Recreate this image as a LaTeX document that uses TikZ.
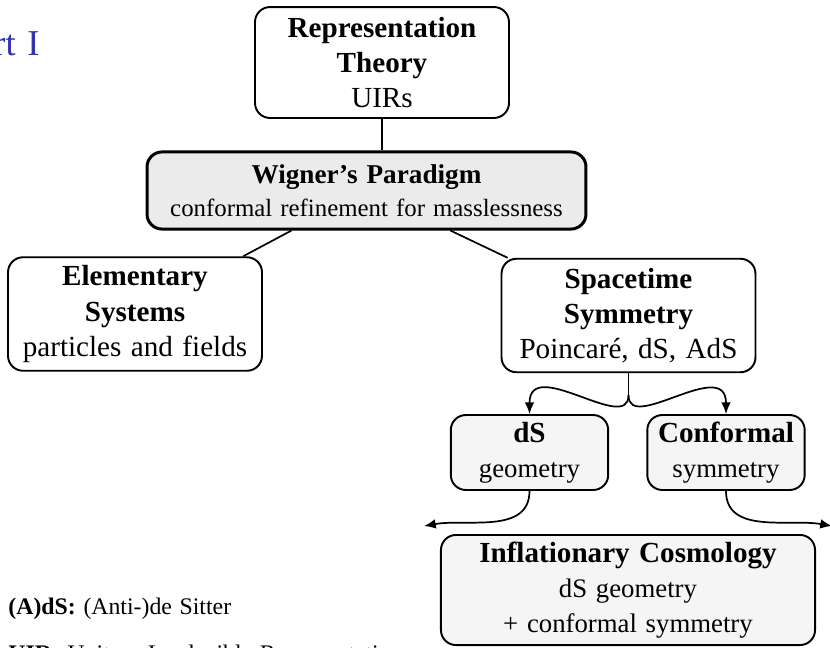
\documentclass[tikz,border=0pt]{standalone}
\usepackage{fontspec}
\setmainfont{Liberation Serif}[WordSpace=1.3]
\usepackage{tikz}
\usetikzlibrary{arrows.meta}

\definecolor{titleblue}{rgb}{0.2,0.2,0.7}
\newcommand{\subfont}{\fontsize{12.5}{16.5}\selectfont}

\begin{document}
\begin{tikzpicture}[x=0.467pt, y=-0.467pt,
    box/.style={draw, rounded corners=7pt, line width=0.9pt, align=center,
        inner sep=2pt, font=\fontsize{13.6}{16.5}\selectfont},
    wide/.style={box, minimum width=118.6pt, minimum height=53pt},
    small/.style={box, fill=black!4, minimum width=73.5pt, minimum height=35pt},
    link/.style={line width=0.8pt},
    arr/.style={line width=0.8pt, -{Latex[length=5.5pt, width=4.5pt]}}]
    \useasboundingbox (0,0) rectangle (830,647);
    \clip (0,0) rectangle (830,647);

    \node[anchor=base east, inner sep=0pt, text=titleblue,
        font=\fontsize{17}{20}\selectfont] (title) at (40,55) {Part I};

    \node[wide, minimum height=51.8pt] (rep) at (382,62.5)
        {\textbf{Representation}\\\textbf{Theory}\\UIRs};
    \node[box, fill=black!8, line width=1.4pt, minimum width=205pt,
        minimum height=36pt, font=\fontsize{11.6}{15.4}\selectfont]
        (wig) at (366.5,190.5)
        {\fontsize{12.7}{15.4}\selectfont\textbf{Wigner's Paradigm}\\conformal refinement for masslessness};
    \node[wide] (elem) at (135,314)
        {\textbf{Elementary}\\\textbf{Systems}\\particles and fields};
    \node[wide] (sts) at (628.5,315.5)
        {\textbf{Spacetime}\\\textbf{Symmetry}\\Poincaré, dS, AdS};
    \node[small] (ds) at (529.5,452.5) {\textbf{dS}\\\subfont geometry};
    \node[small] (conf) at (726,452.5) {\textbf{Conformal}\\\subfont symmetry};
    \node[box, fill=black!4, minimum width=174.7pt, minimum height=51.4pt]
        (inf) at (628,590)
        {\textbf{Inflationary Cosmology}\\\subfont dS geometry\\\subfont + conformal symmetry};

    \coordinate (fork) at ([yshift=-10.3pt]sts.south);
    \coordinate (infl) at ([shift={(-16,-8)}]inf.north west);
    \coordinate (infr) at ([shift={(16,-8)}]inf.north east);

    \draw[link] (rep.south) -- (rep.south |- wig.north);
    \draw[link] (wig) -- (elem);
    \draw[link] (wig) -- (sts);
    \draw[link] (sts.south) -- (fork);
    \draw[arr] (fork) to[out=-90, in=90, in looseness=1.5] (ds.north);
    \draw[arr] (fork) to[out=-90, in=90, in looseness=1.5] (conf.north);
    \draw[arr] (ds.south) to[out=-90, in=10] (infl);
    \draw[arr] (conf.south) to[out=-90, in=170] (infr);

    \node[anchor=base west, inner sep=0pt, font=\fontsize{11.1}{13}\selectfont]
        (ads) at (8,614) {\textbf{(A)dS:} (Anti-)de Sitter};
    \node[anchor=base west, inner sep=0pt, font=\fontsize{11.1}{13}\selectfont]
        (uir) at (8,661) {\textbf{UIR:} Unitary Irreducible Representation};
\end{tikzpicture}
\end{document}
